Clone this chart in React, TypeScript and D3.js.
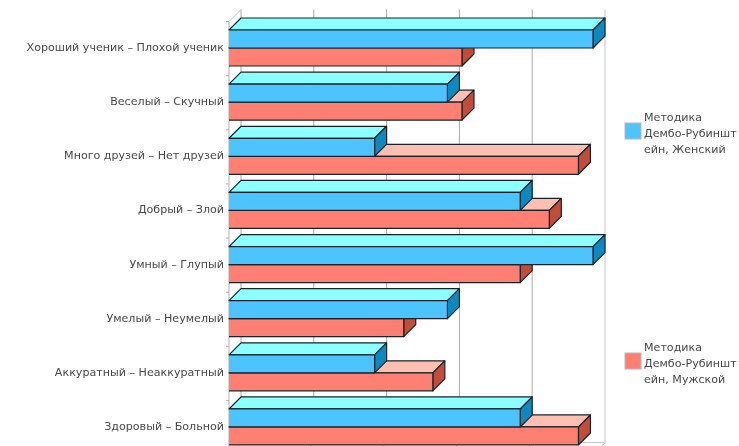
import React from "react";
import * as d3 from "d3";

const categories = [
  "Хороший ученик – Плохой ученик",
  "Веселый – Скучный",
  "Много друзей – Нет друзей",
  "Добрый – Злой",
  "Умный – Глупый",
  "Умелый – Неумелый",
  "Аккуратный – Неаккуратный",
  "Здоровый – Больной",
];
const female = [5, 3, 2, 4, 5, 3, 2, 4];
const male = [3.2, 3.2, 4.8, 4.4, 4, 2.4, 2.8, 4.8];
const ticks = [0, 1, 2, 3, 4, 5];
const legendFemale = ["Методика", "Дембо-Рубиншт", "ейн, Женский"];
const legendMale = ["Методика", "Дембо-Рубиншт", "ейн, Мужской"];

const DX = 12;
const DY = 12;
const BAR = 18;
const FONT = "'DejaVu Sans', Verdana, sans-serif";

const x = d3.scaleLinear().domain([0, 5]).range([229, 593]);
const y = d3.scaleBand<number>().domain(d3.range(8)).range([21.5, 454.6]);

const blueC = { front: "#4cc4ff", top: "#8cffff", side: "#0f88c0" };
const redC = { front: "#ff8073", top: "#ffc0b2", side: "#c24c3a" };

function Bar3D({ v, top, c }: { v: number; top: number; c: typeof blueC }) {
  const x0 = x(0);
  const x1 = x(v);
  const b = top + BAR;
  return (
    <g stroke="#16242a" strokeWidth={1.2} strokeLinejoin="round">
      <path d={`M${x0},${top}L${x0 + DX},${top - DY}H${x1 + DX}L${x1},${top}Z`} fill={c.top} />
      <path d={`M${x1},${top}L${x1 + DX},${top - DY}V${b - DY}L${x1},${b}Z`} fill={c.side} />
      <rect x={x0} y={top} width={x1 - x0} height={BAR} fill={c.front} stroke="none" />
      <path d={`M${x0},${top}H${x1}V${b}H${x0}`} fill="none" />
    </g>
  );
}

function Legend({ lines, color, top }: { lines: string[]; color: string; top: number }) {
  return (
    <g>
      <rect x={625} y={top + 2} width={16} height={16} fill={color} stroke="#b8b8b8" />
      {lines.map((l, i) => (
        <text key={i} x={644} y={top + i * 16} fontSize={11.1} fill="#484848" fontFamily={FONT}>
          {l}
        </text>
      ))}
    </g>
  );
}

export default function App() {
  const top = y(0)!;
  const bottom = y.range()[1];
  return (
    <svg
      width={739}
      height={446}
      style={{ position: "absolute", left: 0, top: 0, filter: "blur(0.55px)" }}
    >
      <rect width={739} height={446} fill="#fff" />
      {ticks.map((t) => (
        <g key={t}>
          <line
            x1={x(t) + DX}
            x2={x(t) + DX}
            y1={top - DY}
            y2={bottom - DY}
            stroke={t === 5 ? "#c4c4c4" : "#a8a8a8"}
          />
          <line x1={x(t) + DX} x2={x(t)} y1={bottom - DY} y2={bottom} stroke="#a8a8a8" />
        </g>
      ))}
      <line x1={x(0) + DX} x2={x(5) + DX} y1={bottom - DY} y2={bottom - DY} stroke="#c4c4c4" />
      <path d={`M${x(0)},${top}L${x(0) + DX},${top - DY}`} fill="none" stroke="#c4c4c4" />
      <line x1={x(0)} x2={x(0)} y1={top} y2={bottom} stroke="#b0b0b0" />
      {d3.range(9).map((i) => {
        const yy = top + i * y.step();
        return <line key={i} x1={x(0) - 3} x2={x(0)} y1={yy} y2={yy} stroke="#b0b0b0" />;
      })}
      {categories.map((c, i) => {
        const t = y(i)! + 8.5;
        return (
          <g key={c}>
            <Bar3D v={male[i]} top={t + BAR} c={redC} />
            <Bar3D v={female[i]} top={t} c={blueC} />
            <text
              x={224}
              y={t + BAR + 3}
              textAnchor="end"
              fontSize={11.1}
              fill="#484848"
              fontFamily={FONT}
            >
              {c}
            </text>
          </g>
        );
      })}
      <Legend lines={legendFemale} color="#4cc4ff" top={121} />
      <Legend lines={legendMale} color="#ff8073" top={351} />
    </svg>
  );
}
